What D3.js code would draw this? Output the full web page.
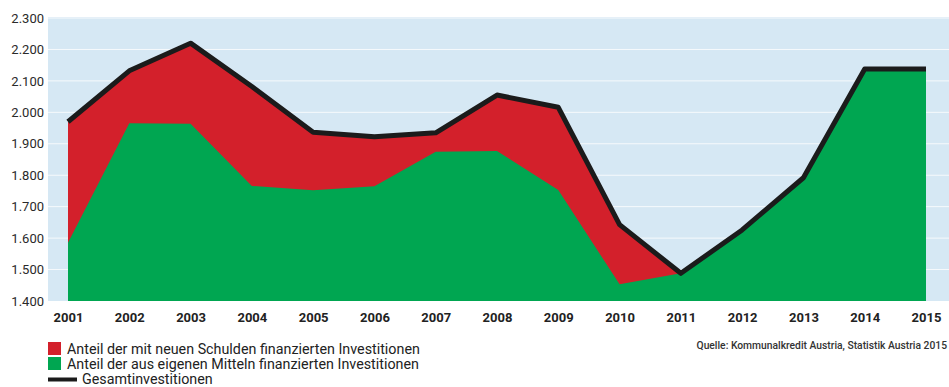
<!DOCTYPE html>
<html>
<head>
<meta charset="utf-8">
<script src="https://cdn.jsdelivr.net/npm/d3@7"></script>
<style>
  html, body { margin: 0; padding: 0; background: #fff; }
  svg { display: block; font-family: Roboto, "DejaVu Sans", sans-serif; }
</style>
</head>
<body>
<svg id="chart" width="949" height="387"></svg>
<script>
// Kommunale Investitionen in Österreich, Mio. Euro
const years = [2001, 2002, 2003, 2004, 2005, 2006, 2007, 2008, 2009, 2010, 2011, 2012, 2013, 2014, 2015];
// Gesamtinvestitionen
const totalValues = [1970, 2132, 2220, 2082, 1937, 1922, 1935, 2055, 2016, 1643, 1488, 1626, 1792, 2138, 2138];
// Anteil aus eigenen Mitteln
const ownFundsValues = [1585, 1965, 1964, 1766, 1752, 1765, 1875, 1877, 1753, 1453, 1488, 1626, 1792, 2138, 2138];
// Anteil über neue Schulden (Differenz zur Gesamtsumme)
const debtValues = totalValues.map((t, i) => t - ownFundsValues[i]);
const yTicks = [1400, 1500, 1600, 1700, 1800, 1900, 2000, 2100, 2200, 2300];
const legendLabels = [
  "Anteil der mit neuen Schulden finanzierten Investitionen",
  "Anteil der aus eigenen Mitteln finanzierten Investitionen",
  "Gesamtinvestitionen"
];
const sourceLabel = "Quelle: Kommunalkredit Austria, Statistik Austria 2015";

const colors = { debt: "#d3202b", own: "#00a651", total: "#1b1b1b", bg: "#d6e8f4" };

const svg = d3.select("#chart");
const plot = { left: 48, right: 949, top: 17, bottom: 301 };

const x = d3.scaleLinear().domain([2001, 2015]).range([68, 926]);
const y = d3.scaleLinear().domain([1400, 2300]).range([301, 18]);

const de = d3.formatLocale({ decimal: ",", thousands: ".", grouping: [3], currency: ["", " €"] });
const fmt = de.format(",.0f");

// Hintergrund
svg.append("rect")
  .attr("x", plot.left).attr("y", plot.top)
  .attr("width", plot.right - plot.left).attr("height", plot.bottom - plot.top)
  .attr("fill", colors.bg);

// Gitterlinien
svg.append("g")
  .selectAll("line")
  .data(yTicks.slice(1))
  .join("line")
  .attr("x1", plot.left).attr("x2", plot.right)
  .attr("y1", d => y(d)).attr("y2", d => y(d))
  .attr("stroke", "#ffffff").attr("stroke-width", 1).attr("opacity", 0.8);

const data = years.map((yr, i) => ({ year: yr, own: ownFundsValues[i], debt: debtValues[i], total: totalValues[i] }));

// Gesamtfläche (rot: Schuldenanteil oberhalb der Eigenmittel)
svg.append("path")
  .datum(data)
  .attr("fill", colors.debt)
  .attr("d", d3.area().x(d => x(d.year)).y0(y(1400)).y1(d => y(d.own + d.debt)));

// Eigenmittel (grün)
svg.append("path")
  .datum(data)
  .attr("fill", colors.own)
  .attr("d", d3.area().x(d => x(d.year)).y0(y(1400)).y1(d => y(d.own)));

// Gesamtinvestitionen (Linie)
svg.append("path")
  .datum(data)
  .attr("fill", "none")
  .attr("stroke", colors.total)
  .attr("stroke-width", 5)
  .attr("stroke-linejoin", "round")
  .attr("d", d3.line().x(d => x(d.year)).y(d => y(d.total)));

// Y-Achse
const yAxis = svg.append("g")
  .attr("transform", `translate(${plot.left},0)`)
  .call(d3.axisLeft(y).tickValues(yTicks).tickFormat(fmt).tickSize(0).tickPadding(4));
yAxis.select(".domain").remove();
yAxis.selectAll("text")
  .attr("font-size", 13).attr("fill", "#2a2a2a")
  .attr("font-family", "Roboto, sans-serif");

// X-Achse
const xAxis = svg.append("g")
  .attr("transform", `translate(0,${plot.bottom})`)
  .call(d3.axisBottom(x).tickValues(years).tickFormat(d3.format("d")).tickSize(0).tickPadding(12));
xAxis.select(".domain").remove();
xAxis.selectAll("text")
  .attr("font-size", 13).attr("font-weight", "bold").attr("fill", "#222")
  .attr("font-family", "Roboto, sans-serif");

// Legende
const legend = svg.append("g").attr("font-size", 14.3).attr("fill", "#222");
legend.append("rect").attr("x", 48).attr("y", 342).attr("width", 13).attr("height", 13).attr("fill", colors.debt);
legend.append("text").attr("x", 67).attr("y", 354).text(legendLabels[0]);
legend.append("rect").attr("x", 48).attr("y", 357).attr("width", 13).attr("height", 13).attr("fill", colors.own);
legend.append("text").attr("x", 67).attr("y", 369).text(legendLabels[1]);
legend.append("line").attr("x1", 48).attr("x2", 77).attr("y1", 379.5).attr("y2", 379.5)
  .attr("stroke", colors.total).attr("stroke-width", 4);
legend.append("text").attr("x", 82).attr("y", 383.5).text(legendLabels[2]);

// Quelle
svg.append("text")
  .attr("x", 947).attr("y", 349)
  .attr("text-anchor", "end")
  .attr("font-size", 10.3).attr("font-weight", 500).attr("fill", "#333")
  .text(sourceLabel);
</script>
</body>
</html>
